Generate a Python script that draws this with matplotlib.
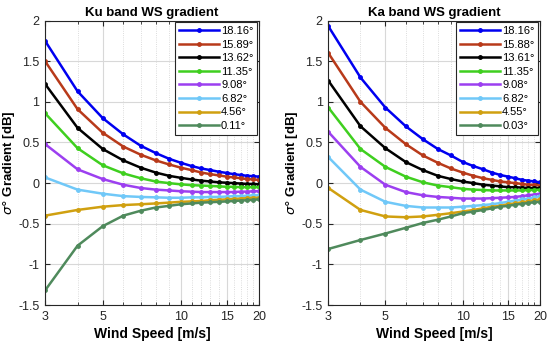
import matplotlib
matplotlib.use("Agg")
import matplotlib.pyplot as plt
from matplotlib.ticker import FixedLocator, NullFormatter

plt.rcParams['font.family'] = ['Liberation Sans', 'DejaVu Sans']

# wind speeds 3..20 m/s
ws = [3, 4, 5, 6, 7, 8, 9, 10, 11, 12, 13, 14, 15, 16, 17, 18, 19, 20]

ku_labels = ['18.16°', '15.89°', '13.62°', '11.35°', '9.08°', '6.82°', '4.56°', '0.11°']
ku_vals = [
    [1.75, 1.13, 0.80, 0.60, 0.46, 0.37, 0.30, 0.25, 0.21, 0.18, 0.16, 0.14, 0.125, 0.11, 0.10, 0.09, 0.085, 0.08],
    [1.50, 0.91, 0.62, 0.45, 0.35, 0.28, 0.23, 0.19, 0.16, 0.13, 0.11, 0.095, 0.08, 0.07, 0.06, 0.05, 0.045, 0.04],
    [1.22, 0.68, 0.42, 0.28, 0.19, 0.13, 0.09, 0.065, 0.045, 0.03, 0.02, 0.01, 0.005, 0.0, -0.005, -0.01, -0.01, -0.015],
    [0.86, 0.43, 0.22, 0.12, 0.06, 0.02, 0.0, -0.015, -0.025, -0.03, -0.035, -0.04, -0.045, -0.045, -0.05, -0.05, -0.05, -0.05],
    [0.48, 0.17, 0.05, -0.02, -0.06, -0.08, -0.09, -0.10, -0.105, -0.11, -0.11, -0.11, -0.11, -0.11, -0.105, -0.105, -0.10, -0.10],
    [0.07, -0.08, -0.13, -0.16, -0.17, -0.175, -0.18, -0.18, -0.175, -0.175, -0.17, -0.17, -0.165, -0.16, -0.16, -0.155, -0.15, -0.15],
    [-0.40, -0.33, -0.29, -0.27, -0.26, -0.25, -0.24, -0.23, -0.225, -0.22, -0.21, -0.205, -0.20, -0.195, -0.19, -0.185, -0.18, -0.18],
    [-1.32, -0.77, -0.53, -0.40, -0.34, -0.30, -0.28, -0.26, -0.25, -0.24, -0.235, -0.23, -0.225, -0.22, -0.215, -0.21, -0.205, -0.20],
]

ka_labels = ['18.16°', '15.88°', '13.61°', '11.35°', '9.08°', '6.82°', '4.55°', '0.03°']
ka_vals = [
    [1.93, 1.30, 0.93, 0.70, 0.54, 0.42, 0.34, 0.26, 0.21, 0.17, 0.13, 0.10, 0.08, 0.06, 0.04, 0.03, 0.02, 0.01],
    [1.60, 1.00, 0.68, 0.48, 0.34, 0.25, 0.18, 0.13, 0.09, 0.06, 0.04, 0.02, 0.01, 0.0, -0.01, -0.02, -0.02, -0.03],
    [1.26, 0.70, 0.43, 0.26, 0.16, 0.09, 0.05, 0.02, 0.0, -0.02, -0.03, -0.04, -0.05, -0.05, -0.055, -0.06, -0.06, -0.06],
    [0.93, 0.42, 0.20, 0.08, 0.01, -0.03, -0.05, -0.07, -0.08, -0.085, -0.09, -0.09, -0.09, -0.09, -0.09, -0.085, -0.085, -0.08],
    [0.63, 0.20, -0.02, -0.11, -0.15, -0.17, -0.18, -0.19, -0.19, -0.19, -0.185, -0.18, -0.175, -0.17, -0.16, -0.15, -0.14, -0.13],
    [0.32, -0.08, -0.23, -0.28, -0.30, -0.30, -0.30, -0.29, -0.28, -0.27, -0.26, -0.245, -0.23, -0.215, -0.20, -0.19, -0.175, -0.16],
    [-0.06, -0.33, -0.41, -0.42, -0.41, -0.39, -0.37, -0.35, -0.33, -0.31, -0.29, -0.28, -0.26, -0.25, -0.235, -0.225, -0.21, -0.20],
    [-0.81, -0.70, -0.62, -0.55, -0.49, -0.45, -0.41, -0.37, -0.35, -0.33, -0.31, -0.29, -0.28, -0.265, -0.255, -0.245, -0.235, -0.23],
]

colors = ['#0000f0', '#b83a1a', '#000000', '#3fcf1f', '#9c3ff0', '#70c8f8', '#d0a010', '#4f8a5c']

fig = plt.figure(figsize=(5.5, 3.49), dpi=100)
ax1 = fig.add_axes([0.082, 0.126, 0.389, 0.815])
ax2 = fig.add_axes([0.597, 0.126, 0.385, 0.815])

for ax, vals, labels, title in [(ax1, ku_vals, ku_labels, 'Ku band WS gradient'),
                                 (ax2, ka_vals, ka_labels, 'Ka band WS gradient')]:
    for v, c, lab in zip(vals, colors, labels):
        ax.plot(ws, v, '-', marker='.', color=c, lw=1.8, ms=5, label=lab)
    ax.set_xscale('log')
    ax.set_xlim(3, 20)
    ax.set_ylim(-1.5, 2)
    ax.xaxis.set_major_locator(FixedLocator([3, 5, 10, 15, 20]))
    ax.xaxis.set_minor_locator(FixedLocator([4, 6, 7, 8, 9, 11, 12, 13, 14, 16, 17, 18, 19]))
    ax.xaxis.set_minor_formatter(NullFormatter())
    ax.set_xticklabels(['3', '5', '10', '15', '20'])
    ax.set_yticks([-1.5, -1, -0.5, 0, 0.5, 1, 1.5, 2])
    ax.set_yticklabels(['-1.5', '-1', '-0.5', '0', '0.5', '1', '1.5', '2'])
    ax.grid(True, which='major', color='#d8d8d8', lw=0.8)
    ax.grid(True, which='minor', axis='x', color='#d0d0d0', lw=0.6, ls=':')
    ax.set_axisbelow(True)
    ax.tick_params(which='both', direction='in', labelsize=9, colors='#262626', top=True, right=True, pad=4)
    ax.tick_params(which='minor', length=2)
    for s in ax.spines.values():
        s.set_color('#262626')
        s.set_linewidth(0.8)
    ax.set_title(title, fontsize=9.5, fontweight='bold', pad=3)
    ax.set_xlabel('Wind Speed [m/s]', fontsize=10, fontweight='bold', labelpad=3)
    ax.set_ylabel(r'$\sigma°$ Gradient [dB]', fontsize=9.5, fontweight='bold', labelpad=1)
    leg = ax.legend(loc='upper right', fontsize=8, handlelength=3.6, handletextpad=0.2,
                    labelspacing=0.32, borderpad=0.35, fancybox=False, framealpha=1,
                    borderaxespad=0.15)
    leg.get_frame().set_edgecolor('#262626')
    leg.get_frame().set_linewidth(0.8)

fig.savefig('out.png', dpi=100)
